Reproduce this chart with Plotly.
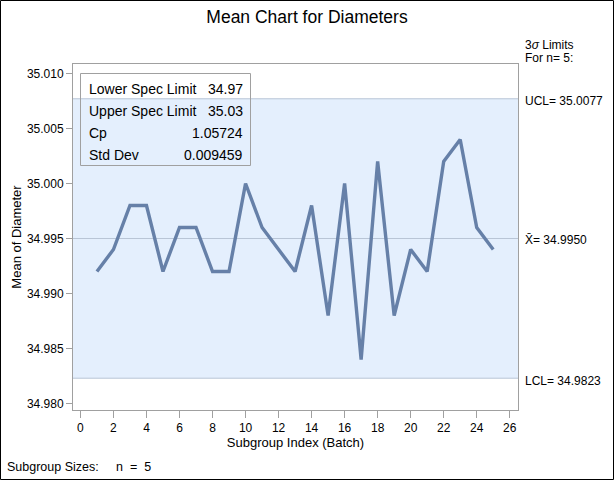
import plotly.graph_objects as go

# ---- data ----
subgroups = list(range(1, 26))
means = [34.992, 34.994, 34.998, 34.998, 34.992, 34.996, 34.996, 34.992, 34.992, 35.000,
         34.996, 34.994, 34.992, 34.998, 34.988, 35.000, 34.984, 35.002, 34.988, 34.994,
         34.992, 35.002, 35.004, 34.996, 34.994]
ucl = 35.0077
center = 34.9950
lcl = 34.9823
stat_labels = ["Lower Spec Limit", "Upper Spec Limit", "Cp", "Std Dev"]
stat_values = ["34.97", "35.03", "1.05724", "0.009459"]
x_ticks = list(range(0, 27, 2))
y_ticks = [34.980, 34.985, 34.990, 34.995, 35.000, 35.005, 35.010]

W, H = 614, 480
L, R, T, B = 73, 96, 64, 70
PW, PH = W - L - R, H - T - B
FONT = "Liberation Sans, Arial, sans-serif"
BAND = "#E4EFFD"
REF = "#B9C5D6"
LINE = "#6680A8"
FRAME = "#A0A0A0"


def px_x(p):
    return (p - L) / PW


def px_y(p):
    return (H - B - p) / PH


fig = go.Figure()

fig.add_trace(go.Scatter(x=subgroups, y=means, mode="lines",
                         line=dict(color=LINE, width=3.4), showlegend=False,
                         hoverinfo="x+y"))

shapes = []
# control band
shapes.append(dict(type="rect", xref="paper", yref="y", x0=0, x1=1, y0=lcl, y1=ucl,
                   fillcolor=BAND, line=dict(width=0), layer="below"))
for v in (ucl, center, lcl):
    shapes.append(dict(type="line", xref="paper", yref="y", x0=0, x1=1, y0=v, y1=v,
                       line=dict(color=REF, width=1), layer="below"))
# stats box
bx0, bx1, by0, by1 = px_x(80.5), px_x(250.5), px_y(165.5), px_y(73.5)
shapes.append(dict(type="rect", xref="paper", yref="paper", x0=bx0, x1=bx1, y0=by0, y1=by1,
                   line=dict(color=FRAME, width=1), fillcolor="rgba(0,0,0,0)"))
# outer border
shapes.append(dict(type="rect", xref="paper", yref="paper",
                   x0=px_x(0.5), x1=px_x(W - 0.5), y0=px_y(H - 0.5), y1=px_y(0.5),
                   line=dict(color="black", width=1)))

ann = []
row_y = [89, 111, 133, 155]
tfont = dict(family=FONT, size=14, color="black")
for lab, val, yy in zip(stat_labels, stat_values, row_y):
    ann.append(dict(xref="paper", yref="paper", x=px_x(87), y=px_y(yy), text=lab,
                    showarrow=False, xanchor="left", yanchor="middle", font=tfont))
    ann.append(dict(xref="paper", yref="paper", x=px_x(245), y=px_y(yy), text=val,
                    showarrow=False, xanchor="right", yanchor="middle", font=tfont))

rx = px_x(523)
rfont = dict(family=FONT, size=12, color="black")
ann.append(dict(xref="paper", yref="paper", x=rx, y=px_y(45), text="3<i>σ</i> Limits",
                showarrow=False, xanchor="left", yanchor="middle", font=rfont))
ann.append(dict(xref="paper", yref="paper", x=rx, y=px_y(58), text="For n= 5:",
                showarrow=False, xanchor="left", yanchor="middle", font=rfont))
ann.append(dict(xref="paper", yref="y", x=rx, y=ucl, yshift=-2, text=f"UCL= {ucl:.4f}",
                showarrow=False, xanchor="left", yanchor="middle", font=rfont))
ann.append(dict(xref="paper", yref="y", x=rx, y=center, yshift=-2, text=f"X\u0304= {center:.4f}",
                showarrow=False, xanchor="left", yanchor="middle", font=rfont))
ann.append(dict(xref="paper", yref="y", x=rx, y=lcl, yshift=-3, text=f"LCL= {lcl:.4f}",
                showarrow=False, xanchor="left", yanchor="middle", font=rfont))
ann.append(dict(xref="paper", yref="paper", x=px_x(5), y=px_y(467),
                text="Subgroup Sizes:" + "&nbsp;" * 5 + "n&nbsp;&nbsp;=&nbsp;&nbsp;5",
                showarrow=False, xanchor="left", yanchor="middle",
                font=dict(family=FONT, size=12.5, color="black")))

fig.update_layout(
    width=W, height=H,
    margin=dict(l=L, r=R, t=T, b=B, pad=0),
    paper_bgcolor="white", plot_bgcolor="white",
    font=dict(family=FONT, size=12, color="black"),
    title=dict(text="Mean Chart for Diameters", x=0.5, xref="container", xanchor="center",
               y=1 - 17 / H, yanchor="middle", yref="container",
               font=dict(family=FONT, size=17.5, color="black")),
    xaxis=dict(range=[-0.45, 26.5], tickmode="array", tickvals=x_ticks,
               ticktext=[str(v) for v in x_ticks],
               showgrid=False, zeroline=False, showline=True, mirror=True,
               linecolor=FRAME, linewidth=1, ticks="outside", ticklen=7, tickcolor=FRAME,
               title=dict(text="Subgroup Index (Batch)", standoff=3,
                          font=dict(family=FONT, size=13)),
               tickfont=dict(family=FONT, size=12)),
    yaxis=dict(range=[34.97941, 35.01086], tickmode="array", tickvals=y_ticks,
               ticktext=[f"{v:.3f}" for v in y_ticks],
               showgrid=False, zeroline=False, showline=True, mirror=True,
               linecolor=FRAME, linewidth=1, ticks="outside", ticklen=6, tickcolor=FRAME,
               title=dict(text="Mean of Diameter", standoff=2,
                          font=dict(family=FONT, size=13)),
               tickfont=dict(family=FONT, size=12)),
    shapes=shapes,
    annotations=ann,
    showlegend=False,
)

fig.write_html("out.html", config={"displayModeBar": False},
               post_script="document.body.style.margin='0';document.body.style.overflow='hidden';")
